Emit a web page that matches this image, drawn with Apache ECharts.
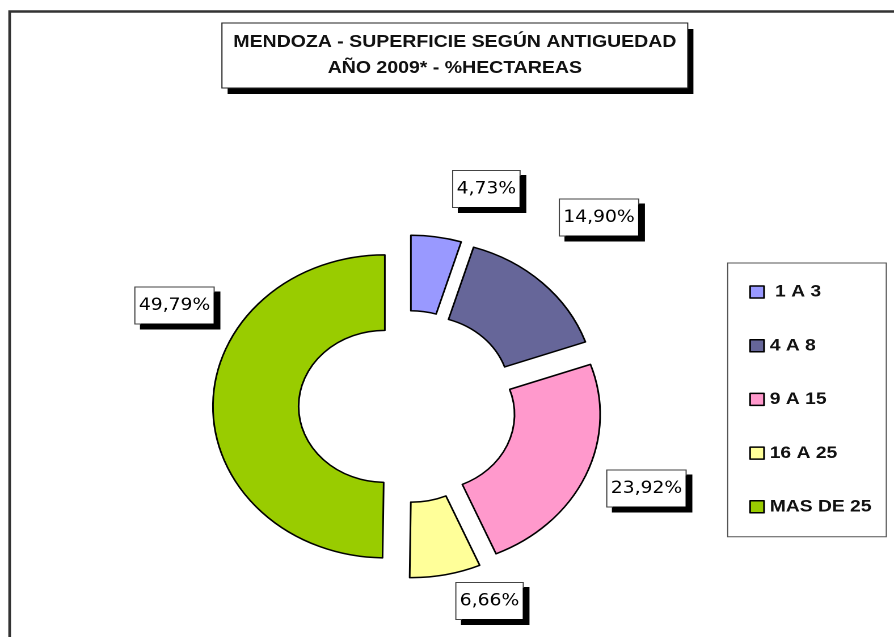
<!DOCTYPE html>
<html>
<head>
<meta charset="utf-8">
<script src="https://cdn.jsdelivr.net/npm/echarts@6/dist/echarts.min.js"></script>
<style>
  html, body { margin: 0; padding: 0; background: #fff; overflow: hidden; }
  /* the original picture is stretched sideways, so draw narrow and widen it */
  #main { width: 788px; height: 637px; transform: scaleX(1.1345); transform-origin: 0 0; }
</style>
</head>
<body>
<div id="main"></div>
<script>
// datos
const categories = [' 1 A 3', '4 A 8', '9 A 15', '16 A 25', 'MAS DE 25'];
const shares = [4.73, 14.90, 23.92, 6.66, 49.79];
const titleLines = ['MENDOZA - SUPERFICIE SEGÚN ANTIGUEDAD', 'AÑO 2009* - %HECTAREAS'];

// estilo
const sliceColors = ['#9999FF', '#666699', '#FF99CC', '#FFFF99', '#99CC00'];
const labelCenters = [[428.7, 189], [528, 217.5], [569.8, 488.5], [431.5, 601], [153.8, 305.5]];
const pieCenter = [359.2, 406.5];
const pieRadius = [76, 151.5];
const titleBox = { x: 195.6, y: 23, width: 410.6, height: 65 };

const chart = echarts.init(document.getElementById('main'), null, { devicePixelRatio: 2 });

const option = {
    animation: false,
    backgroundColor: '#fff',
    legend: {
        orient: 'vertical',
        left: 641.4,
        top: 263,
        padding: [19, 13, 20, 19],
        backgroundColor: '#fff',
        borderColor: '#555',
        borderWidth: 1,
        itemWidth: 12.3,
        itemHeight: 12,
        itemGap: 33.7,
        icon: 'rect',
        selectedMode: false,
        data: categories,
        itemStyle: { borderColor: '#000', borderWidth: 1.5 },
        textStyle: {
            fontFamily: 'Liberation Sans, Arial, sans-serif',
            fontWeight: 'bold',
            fontSize: 17,
            lineHeight: 20,
            color: '#111'
        }
    },
    graphic: [{
        // marco exterior
        type: 'rect',
        silent: true,
        shape: { x: 8.5, y: 11.5, width: 900, height: 700 },
        style: { fill: null, stroke: '#333', lineWidth: 2.4 }
    }, {
        // sombra del titulo
        type: 'rect',
        silent: true,
        shape: { x: titleBox.x + 5, y: titleBox.y + 6, width: titleBox.width, height: titleBox.height },
        style: { fill: '#000' }
    }, {
        type: 'rect',
        silent: true,
        shape: titleBox,
        style: { fill: '#fff', stroke: '#222', lineWidth: 1 }
    }, {
        type: 'text',
        silent: true,
        x: titleBox.x + titleBox.width / 2,
        y: titleBox.y + titleBox.height / 2,
        style: {
            text: titleLines.join('\n'),
            align: 'center',
            verticalAlign: 'middle',
            font: 'bold 17.2px "Liberation Sans", Arial, sans-serif',
            lineHeight: 26,
            fill: '#111'
        }
    }],
    series: [{
        // porciones separadas
        type: 'pie',
        center: pieCenter,
        radius: pieRadius,
        startAngle: 90,
        clockwise: true,
        selectedMode: 'multiple',
        selectedOffset: 20,
        emphasis: { disabled: true },
        itemStyle: { borderColor: '#000', borderWidth: 1.5 },
        select: { itemStyle: { borderColor: '#000', borderWidth: 1.5 } },
        label: { show: false },
        labelLine: { show: false },
        data: categories.map(function (name, i) {
            return {
                name: name,
                value: shares[i],
                selected: true,
                itemStyle: { color: sliceColors[i] }
            };
        })
    }, {
        // solo etiquetas
        type: 'pie',
        center: pieCenter,
        radius: pieRadius,
        startAngle: 90,
        clockwise: true,
        silent: true,
        legendHoverLink: false,
        avoidLabelOverlap: false,
        emphasis: { disabled: true },
        itemStyle: { color: 'rgba(0,0,0,0)', borderWidth: 0 },
        label: {
            show: true,
            position: 'outside',
            formatter: function (p) {
                return p.value.toFixed(2).replace('.', ',') + '%';
            },
            fontFamily: 'DejaVu Sans, sans-serif',
            fontSize: 16.5,
            color: '#000',
            backgroundColor: '#fff',
            borderColor: '#444',
            borderWidth: 1,
            padding: [10, 3, 9, 3],
            shadowColor: '#000',
            shadowBlur: 0,
            shadowOffsetX: 5,
            shadowOffsetY: 5
        },
        labelLine: { show: false },
        labelLayout: function (params) {
            const c = labelCenters[params.dataIndex];
            return { x: c[0], y: c[1], align: 'center', verticalAlign: 'middle' };
        },
        data: categories.map(function (name, i) {
            return { name: name, value: shares[i] };
        })
    }]
};

chart.setOption(option);
</script>
</body>
</html>
